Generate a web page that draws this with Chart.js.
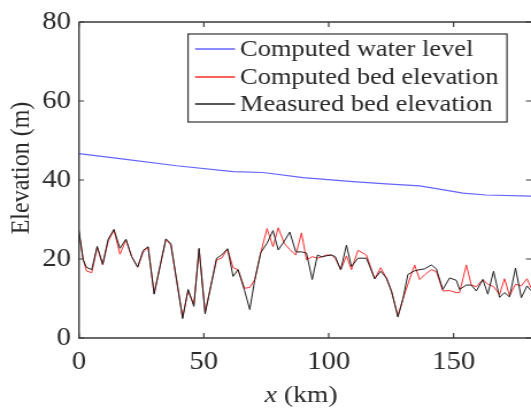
<!DOCTYPE html>
<html>
<head>
<meta charset="utf-8">
<script src="https://cdn.jsdelivr.net/npm/chart.js@4.4.0/dist/chart.umd.min.js"></script>
<style>
  html, body { margin: 0; padding: 0; background: #fff; overflow: hidden; }
  canvas { display: block; }
</style>
</head>
<body>
<!-- the source figure is stretched sideways, so the canvas is too -->
<canvas id="myChart" width="462" height="412" style="width:531px;height:412px"></canvas>
<script>
// water surface profile (km, m)
const waterKm = [0, 16.4, 39.1, 61.7, 73.7, 89.7, 109.7, 123, 136.4, 143.1, 153.7, 163, 181];
const waterLevel = [46.7, 45.4, 43.6, 42.1, 41.9, 40.6, 39.6, 39.0, 38.5, 37.8, 36.7, 36.2, 35.9];

// bed profile sections (km)
const bedKm = [0, 1.7, 3, 5.1, 7.3, 9.5, 11.7, 14, 16.4, 18.8, 21.1, 23.5, 25.7, 27.7, 30.1,
  34.8, 36.8, 41.5, 43.7, 46, 48.1, 50.5, 55.1, 57.1, 59.5, 61.7, 63.7, 66.3, 68.4, 70.4,
  72.8, 75.3, 77.7, 79.8, 82.2, 84.4, 86.8, 89.1, 91.1, 93.4, 95.5, 97.4, 99, 101.1, 102.6,
  104.8, 107.1, 109.1, 111.7, 115.1, 118.4, 120.8, 123.1, 125.1, 127.7, 129.7, 131.7, 134.4,
  136.4, 138.4, 141.1, 143.1, 145.7, 148.4, 151.1, 152.4, 155.1, 157.1, 159.1, 161.7, 163.7,
  166, 168.4, 170.4, 172.4, 174.8, 177.1, 179.4, 181];
const measuredBed = [27.2, 19.8, 17.9, 17.3, 23.2, 18.7, 25, 27.5, 22.7, 25, 20.6, 17.9, 22.2, 23.1, 11.1,
  25.1, 23.9, 4.9, 12.3, 8, 22.7, 6.1, 20.2, 21, 22.6, 15.6, 17.3, 12, 7.2, 14.8,
  21.6, 24, 27.2, 22.3, 24.5, 26.8, 21.8, 21.8, 21.5, 14.8, 21, 20.5, 20.8, 21, 20.6,
  17.3, 23.5, 18.1, 20.2, 20.2, 15, 16.9, 15.2, 11.9, 5.3, 9.8, 16.1, 17,
  17.3, 17.5, 18.5, 17.5, 12.3, 15.2, 14.6, 12.3, 13.4, 13.4, 11.9, 14.8, 11.1,
  16.9, 10.3, 11.5, 10.4, 17.7, 10.2, 13.2, 12];
const computedBed = [26.5, 19.8, 17.0, 16.5, 23.0, 18.5, 24.5, 27.3, 21.2, 24.8, 20.6, 18.0, 21.7, 23.0, 11.3,
  25.0, 23.5, 5.3, 12.0, 8.5, 22.5, 6.5, 19.8, 20.2, 22.5, 17.8, 17.3, 12.6, 12.8, 14.8,
  21.6, 27.7, 23.1, 27.9, 24.0, 22.4, 21.0, 26.6, 19.8, 20.6, 20.2, 20.6, 21.0, 21.0, 20.2,
  17.3, 20.8, 17.3, 22.2, 21.0, 15.0, 17.8, 15.2, 11.9, 5.6, 9.8, 13.6, 18.5,
  14.8, 16.0, 17.3, 16.8, 11.9, 12.0, 11.5, 11.5, 18.5, 13.4, 13.0, 14.8, 13.6,
  13.0, 11.0, 15.0, 10.7, 13.6, 13.2, 15.0, 12.7];

const xTicks = [0, 50, 100, 150];
const yTicks = [0, 20, 40, 60, 80];

const SERIF = "'Liberation Serif', 'Times New Roman', serif";
const AXIS_COLOR = '#3a3a3a';
const TEXT_COLOR = '#2a2a2a';

function pairs(xs, ys) {
  return xs.map(function (x, i) { return {x: x, y: ys[i]}; });
}

// axes box with inward ticks, like matlab
const frame = {
  id: 'frame',
  afterDatasetsDraw(chart) {
    const ctx = chart.ctx;
    const a = chart.chartArea;
    const xs = chart.scales.x, ys = chart.scales.y;
    ctx.save();
    ctx.strokeStyle = AXIS_COLOR;
    ctx.lineWidth = 1.4;
    ctx.beginPath();
    ctx.moveTo(a.left, a.top);
    ctx.lineTo(a.left, a.bottom);
    ctx.lineTo(a.right, a.bottom);
    ctx.moveTo(a.left, a.top);
    ctx.lineTo(a.right, a.top);
    ctx.stroke();
    ctx.lineWidth = 1.2;
    ctx.beginPath();
    xTicks.forEach(function (v) {
      const px = xs.getPixelForValue(v);
      ctx.moveTo(px, a.bottom); ctx.lineTo(px, a.bottom - 5);
      ctx.moveTo(px, a.top); ctx.lineTo(px, a.top + 5);
    });
    yTicks.forEach(function (v) {
      const py = ys.getPixelForValue(v);
      ctx.moveTo(a.left, py); ctx.lineTo(a.left + 4.4, py);
      ctx.moveTo(a.right, py); ctx.lineTo(a.right - 4.4, py);
    });
    ctx.stroke();

    // axis titles
    ctx.fillStyle = TEXT_COLOR;
    ctx.textBaseline = 'middle';
    ctx.font = '24px ' + SERIF;
    ctx.save();
    ctx.translate(19, 168);
    ctx.rotate(-Math.PI / 2);
    ctx.textAlign = 'center';
    ctx.fillText('Elevation (m)', 0, 0);
    ctx.restore();

    ctx.textAlign = 'left';
    ctx.font = 'italic 24px ' + SERIF;
    const w1 = ctx.measureText('x').width;
    ctx.font = '24px ' + SERIF;
    const w2 = ctx.measureText(' (km)').width;
    let tx = 262 - (w1 + w2) / 2;
    ctx.font = 'italic 24px ' + SERIF;
    ctx.fillText('x', tx, 396);
    ctx.font = '24px ' + SERIF;
    ctx.fillText(' (km)', tx + w1, 396);
    ctx.restore();
  }
};

// boxed legend inside the plot
const boxLegend = {
  id: 'boxLegend',
  afterDraw(chart) {
    const ctx = chart.ctx;
    const items = [chart.data.datasets[2], chart.data.datasets[1], chart.data.datasets[0]];
    const rows = [49, 77, 104];
    ctx.save();
    ctx.fillStyle = '#fff';
    ctx.fillRect(163.6, 34, 277.5, 88);
    ctx.strokeStyle = '#333';
    ctx.lineWidth = 1.2;
    ctx.strokeRect(163.6, 34, 277.5, 88);
    ctx.font = '23px ' + SERIF;
    ctx.textBaseline = 'middle';
    ctx.textAlign = 'left';
    items.forEach(function (ds, i) {
      ctx.strokeStyle = ds.borderColor;
      ctx.lineWidth = 1.3;
      ctx.beginPath();
      ctx.moveTo(169.7, rows[i]);
      ctx.lineTo(204.5, rows[i]);
      ctx.stroke();
      ctx.fillStyle = TEXT_COLOR;
      ctx.fillText(ds.label, 208.8, rows[i] + 1);
    });
    ctx.restore();
  }
};

const ctx = document.getElementById('myChart').getContext('2d');
const chart = new Chart(ctx, {
  type: 'line',
  data: {
    datasets: [
      {
        label: 'Measured bed elevation',
        data: pairs(bedKm, measuredBed),
        borderColor: '#1e1e1e',
        borderWidth: 1,
        order: 0
      },
      {
        label: 'Computed bed elevation',
        data: pairs(bedKm, computedBed),
        borderColor: 'rgb(255, 45, 45)',
        borderWidth: 1,
        order: 1
      },
      {
        label: 'Computed water level',
        data: pairs(waterKm, waterLevel),
        borderColor: 'rgb(100, 100, 255)',
        borderWidth: 1.2,
        order: 2
      }
    ]
  },
  options: {
    responsive: false,
    animation: false,
    devicePixelRatio: 1,
    layout: { padding: { top: 16, right: 0, bottom: 0, left: 0 } },
    elements: { point: { radius: 0 }, line: { tension: 0 } },
    plugins: { legend: { display: false }, tooltip: { enabled: false } },
    scales: {
      x: {
        type: 'linear',
        min: 0,
        max: 181,
        border: { display: false },
        grid: { display: false, drawTicks: false },
        afterFit: function (scale) { scale.height = 74; },
        afterBuildTicks: function (scale) {
          scale.ticks = xTicks.map(function (v) { return {value: v}; });
        },
        ticks: {
          autoSkip: false,
          maxRotation: 0,
          padding: 9,
          color: TEXT_COLOR,
          font: { family: SERIF, size: 25 }
        }
      },
      y: {
        min: 0,
        max: 80,
        border: { display: false },
        grid: { display: false, drawTicks: false },
        afterFit: function (scale) { scale.width = 68.7; },
        afterBuildTicks: function (scale) {
          scale.ticks = yTicks.map(function (v) { return {value: v}; });
        },
        ticks: {
          padding: 7,
          color: TEXT_COLOR,
          font: { family: SERIF, size: 25 }
        }
      }
    }
  },
  plugins: [frame, boxLegend]
});
</script>
</body>
</html>
